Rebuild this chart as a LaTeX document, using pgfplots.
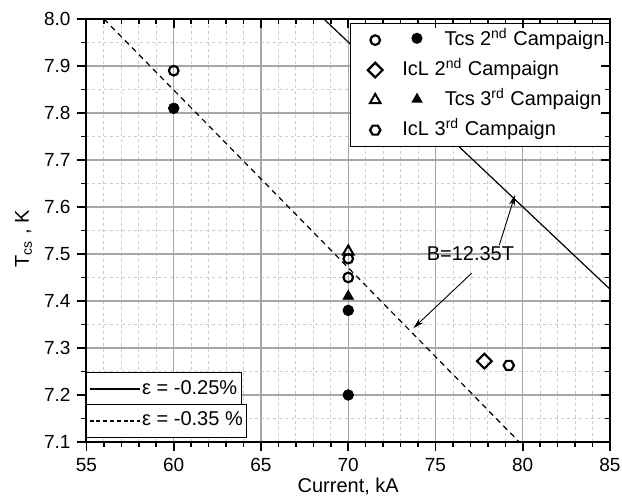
\documentclass[border=0pt]{standalone}
\usepackage{pgfplots}
\pgfplotsset{compat=1.18}
\usepackage{fontspec}
\setmainfont{Liberation Sans}
\usetikzlibrary{arrows.meta}

% hexagon mark for the IcL 3rd campaign point
\pgfdeclareplotmark{hexagon}{%
  \pgfpathmoveto{\pgfqpointpolar{0}{\pgfplotmarksize}}%
  \pgfpathlineto{\pgfqpointpolar{60}{\pgfplotmarksize}}%
  \pgfpathlineto{\pgfqpointpolar{120}{\pgfplotmarksize}}%
  \pgfpathlineto{\pgfqpointpolar{180}{\pgfplotmarksize}}%
  \pgfpathlineto{\pgfqpointpolar{240}{\pgfplotmarksize}}%
  \pgfpathlineto{\pgfqpointpolar{300}{\pgfplotmarksize}}%
  \pgfpathclose
  \pgfusepathqstroke}

\newcommand{\fcirc}{\tikz[baseline=-0.35em]\fill[black] (0,0) circle (2.8pt);}
\newcommand{\ftri}{\tikz[baseline=-0.3em]\fill[black] (90:3.3pt) -- (210:3.3pt) -- (330:3.3pt) -- cycle;}

\pgfplotsset{
  frame/.style={
    scale only axis, width=261.75pt, height=211.5pt,
    xmin=55, xmax=85, ymin=7.1, ymax=8.0,
    xtick={55,60,65,70,75,80,85},
    ytick={7.1,7.2,7.3,7.4,7.5,7.6,7.7,7.8,7.9,8.0},
    minor x tick num=4, minor y tick num=1,
    major tick length=4.5pt, minor tick length=2.5pt,
    tick style={black, line width=0.8pt},
    axis line style={line width=1pt},
  },
  boxlegend/.style={
    frame, hide axis,
    legend image code/.code={\draw[##1] (0pt,0pt) -- (25pt,0pt);},
    legend style={draw=black, line width=0.5pt, fill=white,
      inner xsep=1pt, inner ysep=1.25pt, column sep=0pt,
      cells={anchor=west},
      nodes={inner xsep=1pt, inner ysep=2pt, text height=7.5pt, text depth=2.5pt},
      font=\fontsize{10}{12}\selectfont},
  },
}

\begin{document}
\begin{tikzpicture}
\begin{axis}[
  frame, name=main,
  tick align=outside, xtick pos=left, ytick pos=left,
  grid=both,
  major grid style={gray!70, line width=0.7pt},
  minor grid style={gray!40, line width=0.45pt, dash pattern=on 1.5pt off 1.5pt},
  /pgf/number format/assume math mode=true,
  yticklabel style={/pgf/number format/fixed, /pgf/number format/fixed zerofill,
    /pgf/number format/precision=1},
  tick label style={font=\fontsize{9.5}{11}\selectfont},
  xlabel={Current, kA},
  ylabel={T\textsubscript{cs} , K},
  label style={font=\fontsize{10}{12}\selectfont},
  xlabel style={at={(axis description cs:0.5,-0.106)}, anchor=center},
  ylabel style={at={(axis description cs:-0.12,0.48)}, anchor=center},
  legend image code/.code={%
    \path (0pt,0pt) (16pt,0pt);
    \draw[mark repeat=2,mark phase=2,#1] plot coordinates {(5.5pt,0pt) (10.5pt,0pt) (15.5pt,0pt)};},
  legend style={at={(1,0.9905)}, anchor=north east, draw=black, line width=0.5pt,
    fill=white, inner xsep=1.5pt, inner ysep=0.8pt, column sep=6.5pt,
    cells={anchor=west},
    nodes={inner xsep=1pt, inner ysep=2.3pt, text height=7.8pt, text depth=2.6pt},
    font=\fontsize{10}{12}\selectfont},
]
% strain lines, B = 12.35 T
\addplot[black, line width=0.6pt, forget plot] coordinates {(68.6,8.0) (85,7.425)};
\addplot[black, line width=0.6pt, dash pattern=on 2.8pt off 2.2pt, forget plot]
  coordinates {(56,8.0) (79.8,7.1)};

% Tcs 2nd campaign
\addplot[only marks, mark=o, mark size=2.4pt, line width=1.1pt]
  coordinates {(60,7.89) (70,7.49) (70,7.45)};
\addlegendentry{\hspace{4.5pt}\fcirc\hspace{11pt}Tcs 2\textsuperscript{nd} Campaign}
\addplot[only marks, mark=*, mark size=2.7pt, line width=0.3pt, forget plot]
  coordinates {(60,7.81) (70,7.38) (70,7.20)};

% IcL 2nd campaign
\addplot[only marks, mark=square, mark size=2.6pt, line width=1.1pt,
  every mark/.append style={rotate=45}]
  coordinates {(77.8,7.272)};
\addlegendentry{IcL 2\textsuperscript{nd} Campaign}

% Tcs 3rd campaign
\addplot[only marks, mark=triangle, mark size=3.1pt, line width=1pt]
  coordinates {(70,7.505)};
\addlegendentry{\hspace{4.5pt}\ftri\hspace{11pt}Tcs 3\textsuperscript{rd} Campaign}
\addplot[only marks, mark=triangle*, mark size=3.1pt, line width=0.3pt, forget plot]
  coordinates {(70,7.41)};

% IcL 3rd campaign
\addplot[only marks, mark=hexagon, mark size=2.6pt, line width=1.1pt]
  coordinates {(79.2,7.263)};
\addlegendentry{IcL 3\textsuperscript{rd} Campaign}

\node[font=\fontsize{10}{12}\selectfont] at (axis cs:77.0,7.50) {B=12.35T};
\draw[-{Stealth[length=5.5pt,width=3pt]}, line width=0.45pt]
  (axis cs:78.66,7.519) -- (axis cs:79.56,7.626);
\draw[-{Stealth[length=5.5pt,width=3pt]}, line width=0.45pt]
  (axis cs:77.07,7.459) -- (axis cs:73.73,7.342);
\end{axis}

% inward ticks on the top and right sides
\begin{axis}[frame, tick align=inside, xtick pos=right, ytick pos=right,
  xticklabels={}, yticklabels={}]
\end{axis}

% the two strain legends
\begin{axis}[boxlegend, legend style={at={(0,0.085)}, anchor=south west}]
\addlegendimage{black, line width=0.6pt}
\addlegendentry{ε = -0.25\%}
\end{axis}
\begin{axis}[boxlegend, legend style={at={(0,0.0095)}, anchor=south west}]
\addlegendimage{black, line width=0.6pt, dash pattern=on 2pt off 1.4pt}
\addlegendentry{ε = -0.35 \%}
\end{axis}

\pgfresetboundingbox
\path ([xshift=-43.25pt,yshift=-28.5pt]main.south west)
  rectangle ([xshift=6pt,yshift=9.5pt]main.north east);
\end{tikzpicture}
\end{document}
